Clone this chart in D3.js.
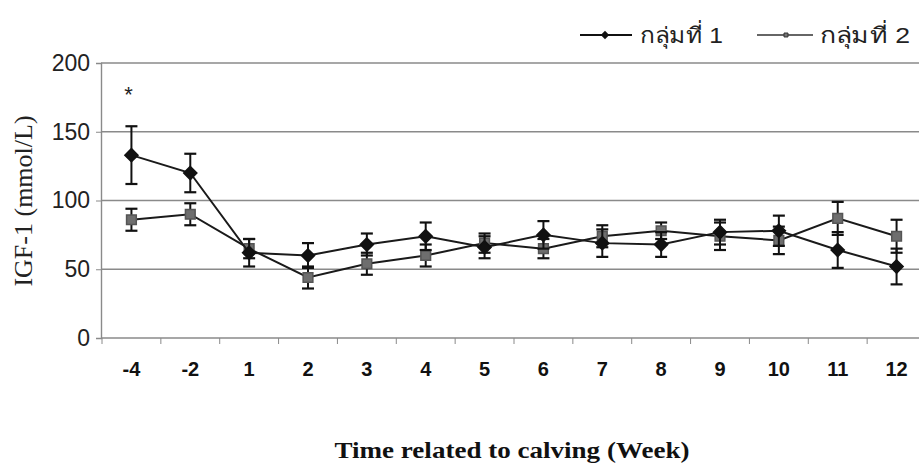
<!DOCTYPE html>
<html><head><meta charset="utf-8">
<script src="https://cdn.jsdelivr.net/npm/d3@7"></script>
<style>body{margin:0;background:#fff}svg{display:block}</style>
</head><body>
<svg id="c" width="919" height="465"></svg>
<script>
const weeks = ["-4","-2","1","2","3","4","5","6","7","8","9","10","11","12"];
const group1 = [133,120,62,60,68,74,66,75,69,68,77,78,64,52];
const group1Err = [21,14,10,9,8,10,8,10,10,9,9,11,13,13];
const group2 = [86,90,65,44,54,60,69,65,74,78,74,71,87,74];
const group2Err = [8,8,7,8,8,8,7,7,8,6,10,10,12,12];
const yTicks = [0,50,100,150,200];
const seriesNames = ["กลุ่มที่ 1","กลุ่มที่ 2"];
const starWeek = "-4";

const svg = d3.select("#c");
const x = d3.scaleBand().domain(weeks).range([102, 926]);
const y = d3.scaleLinear().domain([0,200]).range([338, 63]);

// gridlines
svg.append("g").selectAll("line").data(yTicks.filter(d=>d>0)).join("line")
  .attr("x1",101).attr("x2",919).attr("y1",d=>y(d)).attr("y2",d=>y(d))
  .attr("stroke","#8a8a8a").attr("stroke-width",1.4);

// y axis
const ya = svg.append("g").attr("transform","translate(101,0)")
  .call(d3.axisLeft(y).tickValues(yTicks).tickSize(5).tickPadding(6));
ya.select(".domain").attr("stroke","#8a8a8a").attr("stroke-width",1.4);
ya.selectAll(".tick line").attr("stroke","#8a8a8a");
ya.selectAll("text").attr("font-family","Arial, 'Liberation Sans', sans-serif")
  .attr("font-size",23).attr("fill","#222");

// x axis
const xa = svg.append("g").attr("transform","translate(0,338)")
  .call(d3.axisBottom(x).tickSize(0).tickPadding(24));
xa.select(".domain").attr("d","M101,0H919").attr("stroke","#8a8a8a").attr("stroke-width",1.4);
xa.selectAll("text").attr("font-family","Arial, 'Liberation Sans', sans-serif")
  .attr("font-size",20).attr("font-weight","bold").attr("fill","#111");
xa.append("g").selectAll("line").data(weeks).join("line")
  .attr("x1",d=>x(d)).attr("x2",d=>x(d)).attr("y1",0).attr("y2",6)
  .attr("stroke","#8a8a8a");

const cx = d => x(d) + x.bandwidth()/2;

function drawSeries(vals, errs, color, shape) {
  const g = svg.append("g");
  const pts = weeks.map((w,i)=>({w, v:vals[i], e:errs[i]}));
  g.append("path").datum(pts)
    .attr("d", d3.line().x(d=>cx(d.w)).y(d=>y(d.v)))
    .attr("fill","none").attr("stroke","#1a1a1a").attr("stroke-width",2);
  const eb = g.selectAll("g.eb").data(pts).join("g");
  eb.append("line").attr("x1",d=>cx(d.w)).attr("x2",d=>cx(d.w))
    .attr("y1",d=>y(d.v+d.e)).attr("y2",d=>y(d.v-d.e)).attr("stroke","#111").attr("stroke-width",2);
  [1,-1].forEach(s=>{
    eb.append("line").attr("x1",d=>cx(d.w)-6).attr("x2",d=>cx(d.w)+6)
      .attr("y1",d=>y(d.v+s*d.e)).attr("y2",d=>y(d.v+s*d.e)).attr("stroke","#111").attr("stroke-width",2.2);
  });
  g.selectAll("path.m").data(pts).join("path")
    .attr("transform",d=>`translate(${cx(d.w)},${y(d.v)})`)
    .attr("d", d3.symbol().type(shape==="d"?d3.symbolDiamond2:d3.symbolSquare2).size(shape==="d"?110:120)())
    .attr("fill", color).attr("stroke", shape==="d"?"#111":"#555").attr("stroke-width",1.5);
}
drawSeries(group2, group2Err, "#6e6e6e", "s");
drawSeries(group1, group1Err, "#111", "d");

// asterisk
svg.append("text").attr("x",cx(starWeek)-3).attr("y",y(group1[0]+group1Err[0])-24)
  .attr("text-anchor","middle").attr("font-family","Arial, sans-serif").attr("font-size",22)
  .attr("fill","#222").text("*");

// legend
const lg = svg.append("g").attr("font-family","Arial, 'Noto Sans', sans-serif").attr("font-size",22).attr("fill","#222");
lg.append("line").attr("x1",580).attr("x2",632).attr("y1",35).attr("y2",35).attr("stroke","#111").attr("stroke-width",1.8);
lg.append("path").attr("transform","translate(605,35)").attr("d",d3.symbol().type(d3.symbolDiamond2).size(45)()).attr("fill","#111");
lg.append("text").attr("x",640).attr("y",43).attr("textLength",83).attr("lengthAdjust","spacingAndGlyphs").text(seriesNames[0]);
lg.append("line").attr("x1",757).attr("x2",813).attr("y1",35).attr("y2",35).attr("stroke","#333").attr("stroke-width",1.5);
lg.append("path").attr("transform","translate(786,35)").attr("d",d3.symbol().type(d3.symbolSquare2).size(20)()).attr("fill","#777").attr("stroke","#333");
lg.append("text").attr("x",820).attr("y",43).attr("textLength",90).attr("lengthAdjust","spacingAndGlyphs").text(seriesNames[1]);

// axis titles
svg.append("text").attr("transform","translate(32,201) rotate(-90)").attr("text-anchor","middle")
  .attr("font-family","'Liberation Serif','Times New Roman',serif").attr("font-size",26).attr("fill","#222")
  .text("IGF-1 (mmol/L)");
svg.append("text").attr("x",512).attr("y",458).attr("text-anchor","middle")
  .attr("font-family","'Liberation Serif','Times New Roman',serif").attr("font-size",23).attr("font-weight","bold").attr("fill","#111")
  .attr("textLength",355).attr("lengthAdjust","spacingAndGlyphs")
  .text("Time related to calving (Week)");
</script>
</body></html>
